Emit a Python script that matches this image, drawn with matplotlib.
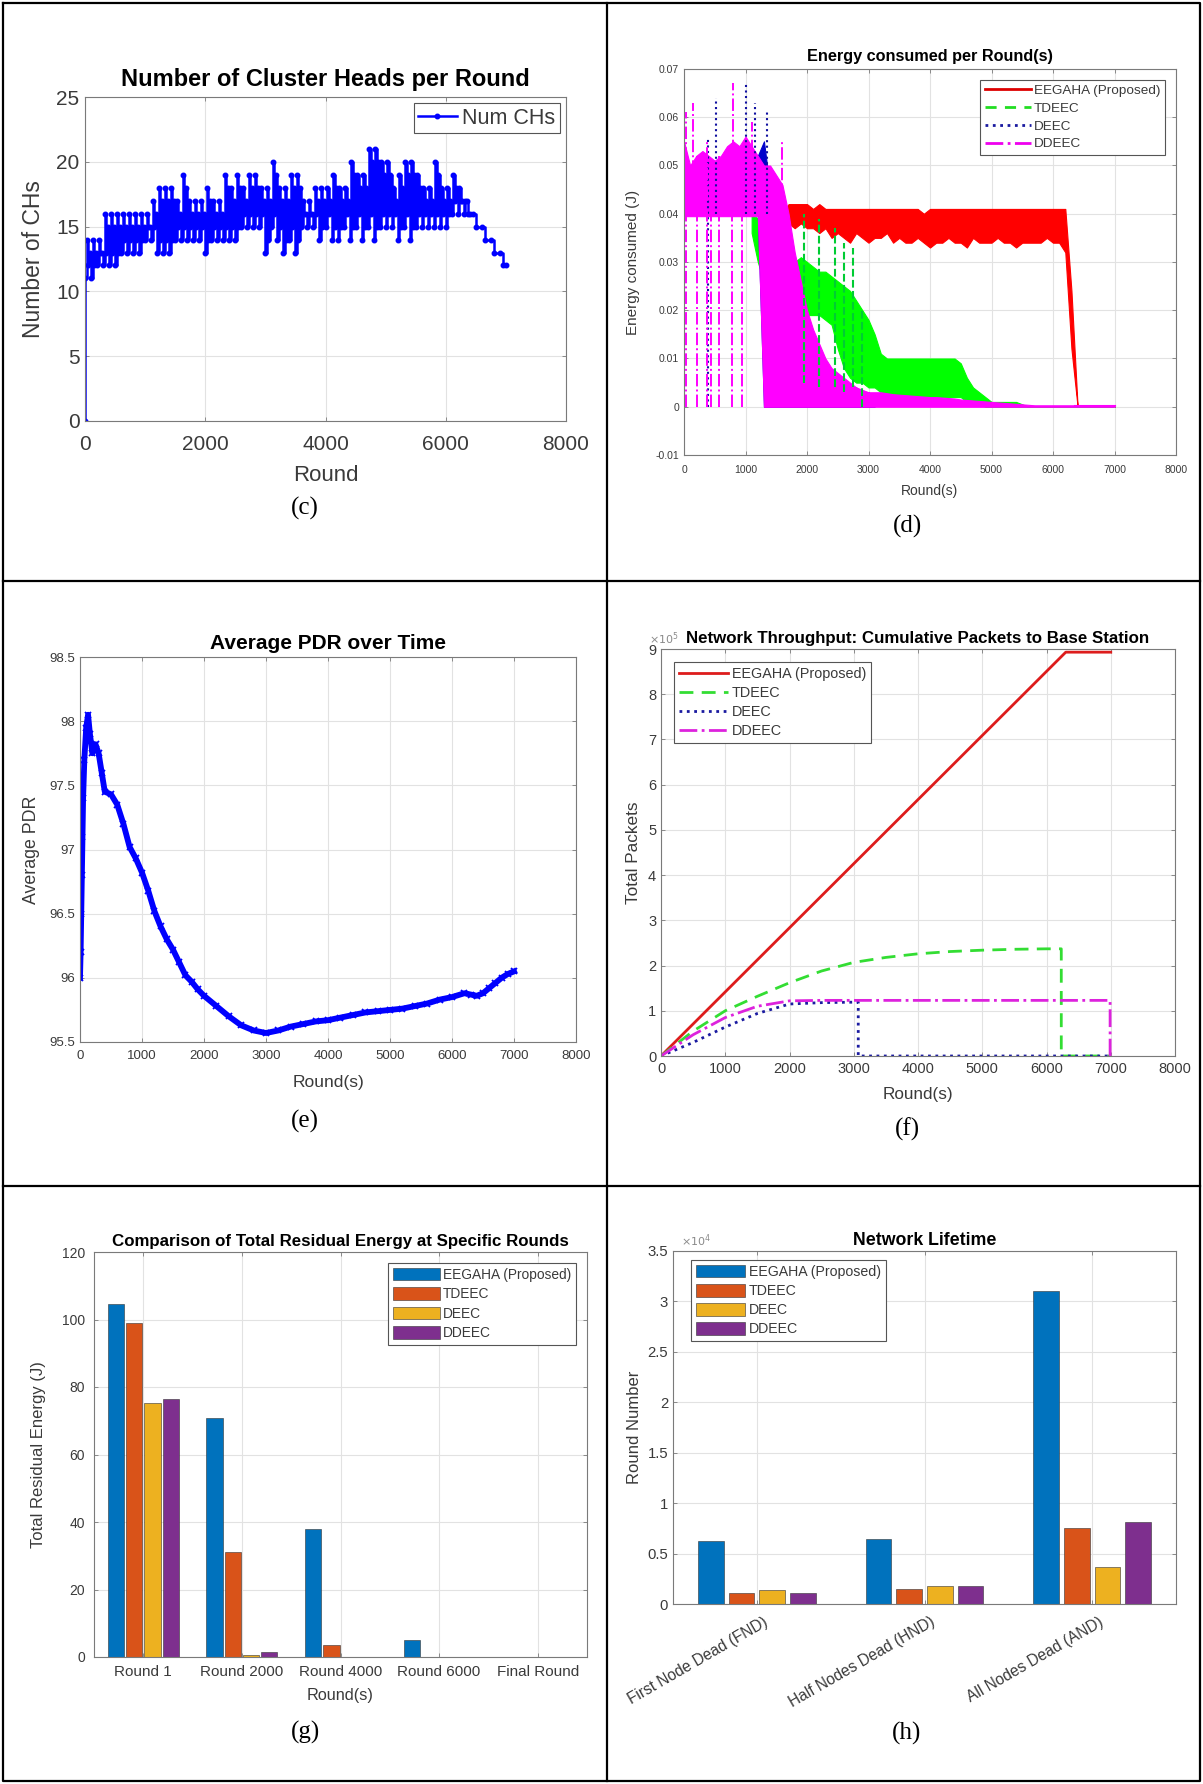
import numpy as np
import matplotlib
matplotlib.use("Agg")
import matplotlib.pyplot as plt
from matplotlib.lines import Line2D

plt.rcParams['font.family'] = ['Liberation Sans', 'DejaVu Sans']

W, H = 1203, 1784
TXT = '#3a3a3a'
GRID = '#e2e2e2'
MATLAB = ['#0072BD', '#D95319', '#EDB120', '#7E2F8E']
METHODS = ['EEGAHA (Proposed)', 'TDEEC', 'DEEC', 'DDEEC']

# ---------------- (c) number of cluster heads ----------------
ch_block = list(range(0, 6400, 100))
ch_lo = [11, 11, 12, 12, 12, 12, 13, 13, 13, 13, 14, 14, 13, 13, 13, 14,
         14, 14, 14, 14, 13, 14, 14, 14, 14, 14, 15, 15, 15, 15, 13, 15,
         14, 13, 14, 13, 15, 15, 15, 14, 15, 14, 14, 15, 14, 15, 14, 15,
         14, 15, 15, 15, 14, 15, 14, 15, 15, 15, 15, 15, 15, 16, 16, 16]
ch_hi = [14, 14, 14, 16, 16, 16, 16, 16, 16, 16, 16, 17, 18, 18, 18, 17,
         19, 17, 17, 17, 18, 17, 17, 19, 18, 19, 18, 19, 19, 18, 18, 20,
         18, 18, 19, 19, 17, 17, 18, 18, 18, 19, 18, 18, 20, 19, 19, 21,
         21, 20, 20, 18, 19, 20, 20, 19, 18, 18, 20, 18, 18, 19, 18, 17]
ch_tail_x = [6400, 6450, 6500, 6600, 6650, 6750, 6800, 6900, 6950, 7000]
ch_tail_y = [16, 16, 15, 15, 14, 14, 13, 13, 12, 12]

# ---------------- (d) energy consumed per round (band envelopes) ----------------
e_x = list(range(0, 7100, 100))
red_hi = [0.040] * 17 + [0.042, 0.042, 0.042, 0.042, 0.041, 0.042, 0.041, 0.041, 0.041,
          0.041, 0.041, 0.041, 0.041, 0.041, 0.041, 0.041, 0.041, 0.041, 0.041,
          0.041, 0.041, 0.041, 0.040, 0.041, 0.041, 0.041, 0.041, 0.041, 0.041,
          0.041, 0.041, 0.041, 0.041, 0.041, 0.041, 0.041, 0.041, 0.041, 0.041,
          0.041, 0.041, 0.041, 0.041, 0.041, 0.041, 0.041, 0.024, 0.0] + [0.0] * 6
red_lo = [0.040] * 17 + [0.038, 0.037, 0.038, 0.037, 0.037, 0.036, 0.037, 0.035, 0.036,
          0.035, 0.034, 0.036, 0.035, 0.034, 0.035, 0.035, 0.036, 0.034, 0.035,
          0.034, 0.034, 0.035, 0.034, 0.033, 0.034, 0.034, 0.035, 0.034, 0.034,
          0.033, 0.035, 0.034, 0.034, 0.034, 0.035, 0.034, 0.034, 0.033, 0.034,
          0.034, 0.034, 0.034, 0.035, 0.034, 0.034, 0.032, 0.012, 0.0] + [0.0] * 6
td_x = list(range(1100, 7100, 100))
td_hi = [0.040, 0.039, 0.037, 0.034, 0.032, 0.031, 0.030, 0.030, 0.031, 0.030,
         0.029, 0.028, 0.028, 0.027, 0.026, 0.025, 0.024, 0.022, 0.020, 0.018,
         0.015, 0.011, 0.010, 0.010, 0.010, 0.010, 0.010, 0.010, 0.010, 0.010,
         0.010, 0.010, 0.010, 0.010, 0.009, 0.006, 0.004, 0.003, 0.002, 0.001,
         0.001, 0.001, 0.001, 0.001, 0.0005, 0.0, 0.0, 0.0, 0.0, 0.0,
         0.0, 0.0, 0.0, 0.0, 0.0, 0.0, 0.0, 0.0, 0.0, 0.0]
td_lo = [0.036, 0.030, 0.026, 0.024, 0.022, 0.021, 0.020, 0.019, 0.019, 0.019,
         0.019, 0.019, 0.018, 0.017, 0.012, 0.008, 0.006, 0.005, 0.005, 0.004,
         0.004, 0.003, 0.002, 0.002, 0.002, 0.002, 0.002, 0.002, 0.002, 0.002,
         0.002, 0.002, 0.002, 0.002, 0.002, 0.001, 0.001, 0.0005, 0.0, 0.0,
         0.0, 0.0, 0.0, 0.0, 0.0, 0.0, 0.0, 0.0, 0.0, 0.0,
         0.0, 0.0, 0.0, 0.0, 0.0, 0.0, 0.0, 0.0, 0.0, 0.0]
td_spike_x = [1950, 2200, 2450, 2600, 2750, 2900]
td_spike_top = [0.040, 0.039, 0.037, 0.034, 0.033, 0.020]
td_spike_bot = [0.005, 0.004, 0.004, 0.003, 0.004, 0.0]
de_x = list(range(0, 3200, 100))
de_hi = [0.050, 0.050, 0.050, 0.050, 0.050, 0.050, 0.050, 0.050, 0.052, 0.052,
         0.053, 0.052, 0.052, 0.055, 0.045, 0.040, 0.035, 0.030, 0.025, 0.020,
         0.016, 0.013, 0.010, 0.008, 0.007, 0.006, 0.005, 0.004, 0.004, 0.003,
         0.003, 0.002]
de_lo = [0.040] * 13 + [0.0] * 19
de_spike_x = [390, 514, 1000, 1160, 1350]
de_spike_top = [0.056, 0.064, 0.067, 0.063, 0.061]
de_spike_bot = [0.0, 0.040, 0.040, 0.040, 0.040]
dd_hi = [0.055, 0.050, 0.052, 0.053, 0.052, 0.051, 0.052, 0.054, 0.055, 0.054,
         0.056, 0.054, 0.052, 0.050, 0.050, 0.048, 0.046, 0.040, 0.032, 0.026,
         0.020, 0.016, 0.013, 0.010, 0.008, 0.007, 0.006, 0.005, 0.004, 0.0035,
         0.003, 0.003, 0.003, 0.0028, 0.0026, 0.0025, 0.0024, 0.0023, 0.0022, 0.0021,
         0.002, 0.002, 0.0019, 0.0018, 0.0017, 0.0015, 0.0014, 0.0013, 0.0012, 0.0011,
         0.001, 0.0009, 0.0008, 0.0007, 0.0006, 0.0005, 0.0004, 0.0003, 0.0003, 0.0003,
         0.0003, 0.0003, 0.0003, 0.0003, 0.0003, 0.0003, 0.0003, 0.0003, 0.0003, 0.0003,
         0.0003]
dd_lo = [0.0395] * 13 + [0.0] * 58
dd_spike_x = [27, 150, 216, 378, 432, 567, 784, 800, 946, 1100, 1600]
dd_spike_top = [0.061, 0.063, 0.052, 0.055, 0.050, 0.052, 0.050, 0.067, 0.050, 0.059, 0.055]
dd_spike_bot = [0.0, 0.040, 0.0, 0.0, 0.0, 0.0, 0.0, 0.040, 0.0, 0.040, 0.0]

# ---------------- (e) average PDR ----------------
pdr_x = [0, 10, 20, 30, 40, 50, 70, 100, 130, 160, 200, 250, 300, 350, 400, 500,
         600, 700, 800, 900, 1000, 1100, 1200, 1300, 1400, 1500, 1600, 1700, 1800,
         1900, 2000, 2200, 2400, 2600, 2800, 3000, 3200, 3400, 3600, 3800, 4000,
         4200, 4400, 4600, 4800, 5000, 5200, 5400, 5600, 5800, 6000, 6200, 6300,
         6400, 6500, 6600, 6700, 6800, 6900, 7000]
pdr_y = [96.0, 96.2, 96.5, 96.8, 97.1, 97.4, 97.7, 97.95, 98.05, 97.9, 97.75, 97.82,
         97.75, 97.6, 97.45, 97.43, 97.35, 97.2, 97.02, 96.93, 96.82, 96.68, 96.52,
         96.4, 96.3, 96.22, 96.12, 96.02, 95.97, 95.91, 95.86, 95.78, 95.7, 95.63,
         95.59, 95.57, 95.59, 95.62, 95.64, 95.66, 95.67, 95.69, 95.71, 95.73, 95.74,
         95.75, 95.76, 95.78, 95.8, 95.83, 95.85, 95.88, 95.87, 95.86, 95.88, 95.92,
         95.96, 96.0, 96.03, 96.05]

# ---------------- (f) cumulative packets ----------------
tp_red_x = [0, 6300, 7000]
tp_red_y = [0, 893000, 893000]
tp_td_x = [0, 500, 1000, 1500, 2000, 2500, 3000, 3500, 4000, 4500, 5000, 5500, 6000, 6230, 6230, 7000]
tp_td_y = [0, 55000, 100000, 132000, 162000, 188000, 207000, 218000, 226000, 231000,
           234000, 236000, 237000, 237000, 0, 0]
tp_de_x = [0, 500, 1000, 1500, 2000, 2500, 3000, 3070, 3070, 7000]
tp_de_y = [0, 30000, 64000, 94000, 115000, 118000, 119000, 119000, 0, 0]
tp_dd_x = [0, 500, 1000, 1500, 2000, 2500, 3000, 4000, 5000, 6000, 6990, 6990]
tp_dd_y = [0, 47000, 85000, 110000, 122000, 123000, 123000, 123000, 123000, 123000, 123000, 0]

# ---------------- (g) residual energy ----------------
res_rounds = ['Round 1', 'Round 2000', 'Round 4000', 'Round 6000', 'Final Round']
res_eegaha = [104.6, 70.7, 37.9, 5.0, 0.1]
res_tdeec = [99.1, 31.0, 3.6, 0.1, 0.0]
res_deec = [75.3, 0.6, 0.1, 0.05, 0.0]
res_ddeec = [76.5, 1.5, 0.1, 0.1, 0.0]

# ---------------- (h) network lifetime ----------------
life_cats = ['First Node Dead (FND)', 'Half Nodes Dead (HND)', 'All Nodes Dead (AND)']
life_eegaha = [6200, 6430, 31000]
life_tdeec = [1070, 1450, 7570]
life_deec = [1380, 1760, 3670]
life_ddeec = [1100, 1760, 8100]


def rect(l, t, r, b):
    return [l / W, 1 - b / H, (r - l) / W, (b - t) / H]


def matlab_axes(ax, tick_fs, xpad=3.5, ypad=3.5, xfs=None):
    for s in ax.spines.values():
        s.set_color('#7a7a7a')
        s.set_linewidth(0.8)
    ax.tick_params(direction='in', top=True, right=True, length=3, width=0.6,
                   colors='#7a7a7a', labelcolor=TXT, labelsize=tick_fs)
    ax.tick_params(axis='x', pad=xpad, labelsize=xfs or tick_fs)
    ax.tick_params(axis='y', pad=ypad)
    ax.grid(True, color=GRID, lw=0.8)
    ax.set_axisbelow(True)


def matlab_legend(ax, loc, fs, handles=None, labels=None, **kw):
    args = (handles, labels) if handles is not None else ()
    kw.setdefault('borderpad', 0.35)
    leg = ax.legend(*args, loc=loc, fontsize=fs, fancybox=False, framealpha=1,
                    edgecolor='#555555', handletextpad=0.25, **kw)
    leg.get_frame().set_linewidth(0.8)
    for t in leg.get_texts():
        t.set_color(TXT)
    return leg


def exp_label(ax, s, x):
    ax.text(x, 1.006, s, transform=ax.transAxes, ha='right', va='bottom',
            fontsize=8, color='#8a8a8a', zorder=1)


fig = plt.figure(figsize=(W / 100, H / 100), dpi=100)

# table lines
tab = fig.add_axes([0, 0, 1, 1])
tab.set_xlim(0, W)
tab.set_ylim(H, 0)
tab.axis('off')
tab.plot([3, 1200, 1200, 3, 3], [3, 3, 1781, 1781, 3], color='black', lw=1.6)
tab.plot([607, 607], [3, 1781], color='black', lw=1.6)
tab.plot([3, 1200], [581, 581], color='black', lw=1.6)
tab.plot([3, 1200], [1186, 1186], color='black', lw=1.6)
for lab, x, y in [('(c)', 305, 508), ('(d)', 907, 526), ('(e)', 305, 1121),
                  ('(f)', 907, 1129), ('(g)', 305, 1732), ('(h)', 907, 1733)]:
    tab.text(x, y, lab, ha='center', va='center', fontsize=18,
             family=['Liberation Serif', 'DejaVu Serif'])

# ---- (c)
ax = fig.add_axes(rect(85, 97, 566, 421))
cx, cy = [0], [0]
for b, lo, hi in zip(ch_block, ch_lo, ch_hi):
    cx += [b, b + 25, b + 50, b + 75]
    cy += [lo, hi, lo + 1, hi - 1]
cx += ch_tail_x
cy += ch_tail_y
ax.plot(cx, cy, color='#0000ff', lw=1.8, marker='.', ms=6.5, drawstyle='steps-post',
        label='Num CHs')
ax.set_xlim(0, 8000)
ax.set_ylim(0, 25)
ax.set_xticks(range(0, 8001, 2000))
ax.set_yticks(range(0, 26, 5))
matlab_axes(ax, 15, xpad=10, ypad=4)
ax.set_title('Number of Cluster Heads per Round', fontsize=17, fontweight='bold', pad=8)
ax.set_xlabel('Round', fontsize=16, color=TXT, labelpad=8)
ax.set_ylabel('Number of CHs', fontsize=16.5, color=TXT, labelpad=8)
matlab_legend(ax, 'upper right', 15.5, handlelength=1.8, borderaxespad=0.3,
              borderpad=0.2)

# ---- (d)
ax = fig.add_axes(rect(684, 69, 1176, 455))
ax.fill_between(e_x, red_lo, red_hi, color='#ff0000', lw=0.8, edgecolor='#ff0000')
ax.fill_between(td_x, td_lo, td_hi, color='#00ff00', lw=0.8, edgecolor='#00ff00')
ax.vlines(td_spike_x, td_spike_bot, td_spike_top, colors='#00cc33', linestyles='--', lw=1.5)
ax.fill_between(de_x, de_lo, de_hi, color='#0000cc', lw=0.8, edgecolor='#0000cc')
ax.vlines(de_spike_x, de_spike_bot, de_spike_top, colors='#1010a0', linestyles=':', lw=1.5)
ax.fill_between(e_x, dd_lo, dd_hi, color='#ff00ff', lw=0.8, edgecolor='#ff00ff')
ax.vlines(dd_spike_x, dd_spike_bot, dd_spike_top, colors='#ff00ff', linestyles='-.', lw=1.4)
ax.plot([6350, 7000], [0.0002, 0.0002], color='#ff00ff', lw=1.5)
ax.set_xlim(0, 8000)
ax.set_ylim(-0.01, 0.07)
ax.set_xticks(range(0, 8001, 1000))
ax.set_yticks(np.arange(-0.01, 0.0701, 0.01))
ax.set_yticklabels(['-0.01', '0', '0.01', '0.02', '0.03', '0.04', '0.05', '0.06', '0.07'])
matlab_axes(ax, 7.5, xpad=7)
ax.set_title('Energy consumed per Round(s)', fontsize=11.7, fontweight='bold', pad=5.5)
ax.set_xlabel('Round(s)', fontsize=10, color=TXT, labelpad=7)
ax.set_ylabel('Energy consumed (J)', fontsize=11, color=TXT, labelpad=11)
hd = [Line2D([], [], color='#dd0000', lw=2, ls='-'),
      Line2D([], [], color='#22dd22', lw=2, ls=(0, (4, 3))),
      Line2D([], [], color='#1a1aa0', lw=2, ls=':'),
      Line2D([], [], color='#ee00ee', lw=2, ls='-.')]
matlab_legend(ax, 'upper right', 9.7, hd, METHODS, handlelength=3.4,
              labelspacing=0.4, borderaxespad=0.8)

# ---- (e)
ax = fig.add_axes(rect(80, 657, 576, 1042))
ax.plot(pdr_x, pdr_y, color='#0000ff', lw=4.2, marker='x', ms=5, mew=1.3)
ax.set_xlim(0, 8000)
ax.set_ylim(95.5, 98.5)
ax.set_xticks(range(0, 8001, 1000))
ax.set_yticks(np.arange(95.5, 98.51, 0.5))
ax.set_yticklabels(['95.5', '96', '96.5', '97', '97.5', '98', '98.5'])
matlab_axes(ax, 9.5, xpad=6)
ax.set_title('Average PDR over Time', fontsize=15, fontweight='bold', pad=6)
ax.set_xlabel('Round(s)', fontsize=12.5, color=TXT, labelpad=9)
ax.set_ylabel('Average PDR', fontsize=12.8, color=TXT, labelpad=7)

# ---- (f)
ax = fig.add_axes(rect(661, 649, 1175, 1056))
ax.plot(tp_red_x, tp_red_y, color='#dd1c1c', lw=2, label=METHODS[0])
ax.plot(tp_td_x, tp_td_y, color='#33dd33', lw=2, ls=(0, (5, 3)), label=METHODS[1])
ax.plot(tp_de_x, tp_de_y, color='#1a1aa0', lw=2, ls=':', label=METHODS[2])
ax.plot(tp_dd_x, tp_dd_y, color='#dd22dd', lw=2, ls='-.', label=METHODS[3])
ax.set_xlim(0, 8000)
ax.set_ylim(0, 900000)
ax.set_xticks(range(0, 8001, 1000))
ax.set_yticks(range(0, 900001, 100000))
ax.set_yticklabels([str(v) for v in range(10)])
matlab_axes(ax, 10.5, xpad=4.5)
exp_label(ax, r'$\times10^{5}$', 0.034)
ax.set_title('Network Throughput: Cumulative Packets to Base Station', fontsize=12.2,
             fontweight='bold', pad=4)
ax.set_xlabel('Round(s)', fontsize=12.3, color=TXT, labelpad=8)
ax.set_ylabel('Total Packets', fontsize=12.4, color=TXT, labelpad=5)
matlab_legend(ax, 'upper left', 10.4, handlelength=3.4, labelspacing=0.35,
              borderaxespad=0.9)

# ---- (g)
ax = fig.add_axes(rect(94, 1252, 587, 1657))
gx = np.arange(1, len(res_rounds) + 1)
for k, vals in enumerate([res_eegaha, res_tdeec, res_deec, res_ddeec]):
    ax.bar(gx + (k - 1.5) * 0.185, vals, width=0.165, color=MATLAB[k],
           edgecolor='#333333', lw=0.4, label=METHODS[k])
ax.set_xlim(0.5, 5.5)
ax.set_ylim(0, 120)
ax.set_xticks(gx)
ax.set_xticklabels(res_rounds)
ax.set_yticks(range(0, 121, 20))
matlab_axes(ax, 10, xpad=6, ypad=6.5, xfs=11)
ax.set_title('Comparison of Total Residual Energy at Specific Rounds', fontsize=12.2,
             fontweight='bold', pad=4)
ax.set_xlabel('Round(s)', fontsize=11.7, color=TXT, labelpad=6)
ax.set_ylabel('Total Residual Energy (J)', fontsize=12, color=TXT, labelpad=11)
matlab_legend(ax, 'upper right', 9.9, handlelength=3.4, handleheight=1.0,
              labelspacing=0.4, borderaxespad=0.8)

# ---- (h)
ax = fig.add_axes(rect(673, 1251, 1176, 1604))
hx = np.arange(1, len(life_cats) + 1)
for k, vals in enumerate([life_eegaha, life_tdeec, life_deec, life_ddeec]):
    ax.bar(hx + (k - 1.5) * 0.183, vals, width=0.152, color=MATLAB[k],
           edgecolor='#333333', lw=0.4, label=METHODS[k])
ax.set_xlim(0.5, 3.5)
ax.set_ylim(0, 35000)
ax.set_xticks(hx)
ax.set_xticklabels([])
for x, name in zip(hx, life_cats):
    ax.annotate(name, xy=(x, 0), xycoords=('data', 'axes fraction'),
                xytext=(7, -12), textcoords='offset points', rotation=30,
                ha='right', va='center', rotation_mode='anchor',
                fontsize=11.2, color=TXT, annotation_clip=False)
ax.set_yticks(range(0, 35001, 5000))
ax.set_yticklabels(['0', '0.5', '1', '1.5', '2', '2.5', '3', '3.5'])
matlab_axes(ax, 10.7)
exp_label(ax, r'$\times10^{4}$', 0.075)
ax.set_title('Network Lifetime', fontsize=12.8, fontweight='bold', pad=4)
ax.set_ylabel('Round Number', fontsize=12, color=TXT, labelpad=4)
matlab_legend(ax, 'upper left', 10.2, handlelength=3.5, handleheight=1.0,
              labelspacing=0.35, borderaxespad=0, bbox_to_anchor=(0.035, 0.975))

fig.savefig('out.png', dpi=100)
